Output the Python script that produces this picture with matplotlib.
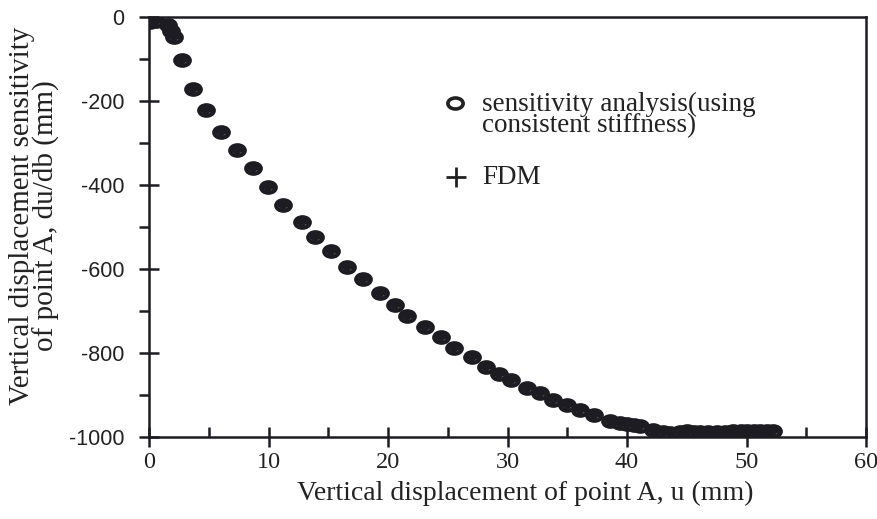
import matplotlib
matplotlib.use("Agg")
import matplotlib.pyplot as plt
from matplotlib.ticker import MultipleLocator
from matplotlib.path import Path
from matplotlib.transforms import Affine2D

plt.rcParams["axes.unicode_minus"] = False

# Data
u = [0.1, 0.6, 1.6, 1.8, 2.1, 2.76, 3.68, 4.77, 6.03, 7.36, 8.7, 9.96, 11.2,
     12.8, 13.9, 15.2, 16.6, 17.9, 19.3, 20.6, 21.6, 23.1, 24.4, 25.5, 27.0,
     28.2, 29.3, 30.3, 31.6, 32.7, 33.8, 35.0, 36.1, 37.2, 38.6, 39.4, 40.0,
     40.6, 41.1, 42.2, 43.0, 43.6, 44.4, 45.0, 45.6, 46.1, 46.8, 47.5, 48.2,
     48.9, 49.5, 50.0, 50.6, 51.1, 51.7, 52.2]
sensitivity = [-12, -10, -19, -33, -48, -102, -171, -221, -274, -317, -360,
               -405, -448, -488, -524, -557, -595, -624, -657, -686, -712,
               -738, -762, -788, -810, -833, -850, -864, -883, -895, -912,
               -924, -936, -948, -962, -966, -969, -972, -974, -983, -987,
               -990, -988, -986, -987, -988, -988, -988, -987, -986, -986,
               -986, -986, -986, -986, -986]
fdm = list(sensitivity)

xticks = [0, 10, 20, 30, 40, 50, 60]
yticks = [0, -200, -400, -600, -800, -1000]

serif = ["Liberation Serif", "DejaVu Serif"]
sans = ["Liberation Sans", "DejaVu Sans"]
ink = "#1c1c22"

ellipse = Path.unit_circle().transformed(Affine2D().scale(1.0, 0.72))

fig = plt.figure(figsize=(8.77, 5.19), dpi=100)
ax = fig.add_axes([149/877, 1-437/519, (866-149)/877, (437-17)/519])

ax.plot(u, sensitivity, linestyle="none", marker=ellipse, markersize=10.5,
        markerfacecolor="white", markeredgecolor=ink, markeredgewidth=3.0)
ax.plot(u, fdm, linestyle="none", marker="+", markersize=8,
        color=ink, markeredgewidth=4.0)

ax.set_xlim(0, 60)
ax.set_ylim(-1000, 0)
ax.set_xticks(xticks)
ax.set_yticks(yticks)
ax.xaxis.set_minor_locator(MultipleLocator(5))
ax.yaxis.set_minor_locator(MultipleLocator(100))

ax.tick_params(axis="both", which="major", direction="inout", length=14,
               width=1.8, color=ink)
ax.tick_params(axis="x", which="minor", direction="in", length=7, width=1.8,
               color=ink)
ax.tick_params(axis="y", which="minor", direction="out", length=7, width=1.8,
               color=ink)
ax.tick_params(axis="x", which="major", pad=4)
ax.tick_params(axis="y", which="major", pad=11)

for lab in ax.get_xticklabels():
    lab.set_fontfamily(serif)
    lab.set_fontsize(17.5)
    lab.set_color("#222")
for lab in ax.get_yticklabels():
    lab.set_fontfamily(sans)
    lab.set_fontsize(15.5)
    lab.set_color("#222")

for s in ax.spines.values():
    s.set_linewidth(1.8)
    s.set_color(ink)

# Legend-like annotations
ax.plot([25.6], [-205], marker=ellipse, markersize=11, markerfacecolor="white",
        markeredgecolor="#222", markeredgewidth=2.6, clip_on=False)
ax.plot([25.7], [-382], marker="+", markersize=14, color="#222",
        markeredgewidth=2, clip_on=False)
ax.text(27.9, -234, "sensitivity analysis(using\nconsistent stiffness)",
        fontfamily=serif, fontsize=19.5, va="center", ha="left", color="#222",
        linespacing=0.8)
ax.text(27.9, -382, "FDM", fontfamily=serif, fontsize=19.5, va="center",
        ha="left", color="#222")

fig.text(0.599, 0.05, "Vertical displacement of point A, u (mm)",
         fontfamily=serif, fontsize=20, ha="center", va="center", color="#222")
fig.text(0.039, 0.585, "Vertical displacement sensitivity\nof point A, du/db (mm)",
         fontfamily=serif, fontsize=21, ha="center", va="center", rotation=90,
         color="#222", linespacing=0.9)

fig.savefig("out.png", dpi=100, facecolor="white")
